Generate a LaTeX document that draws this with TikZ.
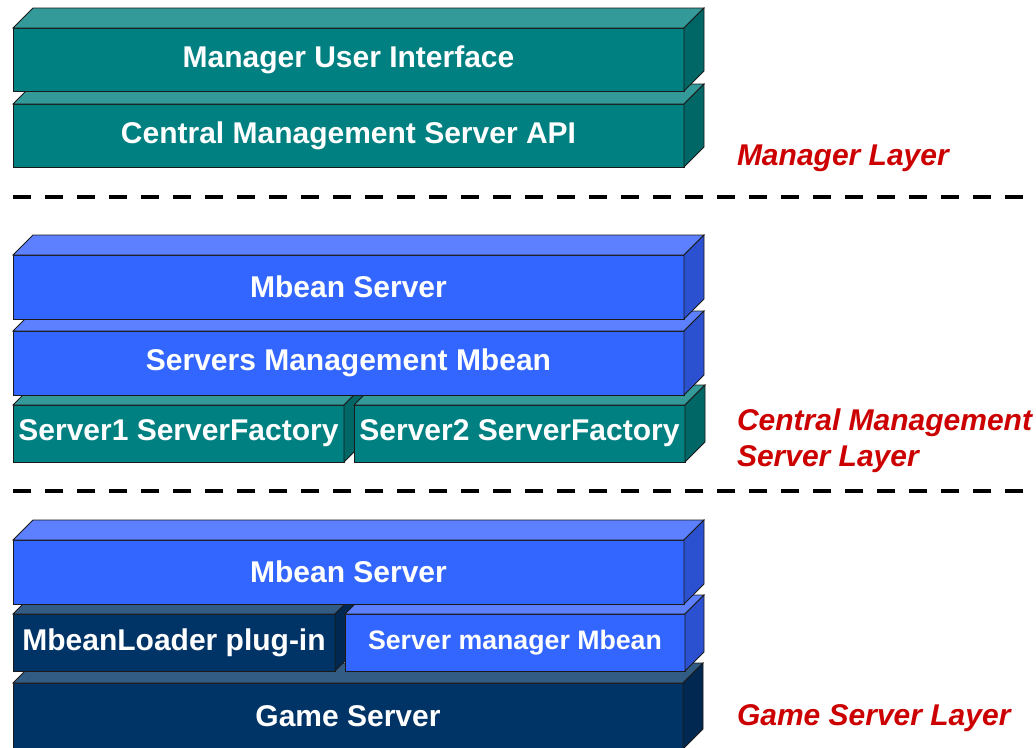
\documentclass[tikz,border=0pt]{standalone}
\usepackage{fontspec}
\setmainfont{Liberation Sans}

\definecolor{tealfront}{HTML}{008080}
\definecolor{tealtop}{HTML}{339999}
\definecolor{tealside}{HTML}{006666}
\definecolor{bluefront}{HTML}{3366FF}
\definecolor{bluetop}{HTML}{5C80FF}
\definecolor{blueside}{HTML}{2B50D0}
\definecolor{navyfront}{HTML}{003366}
\definecolor{navytop}{HTML}{335C85}
\definecolor{navyside}{HTML}{002850}
\definecolor{layerred}{HTML}{CC0000}
\definecolor{edge}{HTML}{1A1A1A}

% top and right faces of a slab whose front face is node #1
% #2 depth, #3 top colour, #4 side colour
\newcommand{\slabfaces}[4]{%
  \filldraw[face, fill=#3] (#1.north west) -- ++(#2,-#2)
    -- ([shift={(#2,-#2)}]#1.north east) -- (#1.north east) -- cycle;
  \filldraw[face, fill=#4] (#1.north east) -- ++(#2,-#2)
    -- ([shift={(#2,-#2)}]#1.south east) -- (#1.south east) -- cycle;
}

\begin{document}
\begin{tikzpicture}[x=1pt, y=-1pt,
  face/.style={draw=edge, line width=0.8pt, line join=miter},
  slab/.style={draw=edge, line width=0.8pt, inner sep=0pt, outer sep=0pt,
    anchor=north west, text=white,
    font=\bfseries\fontsize{30}{35}\selectfont},
  smallslab/.style={slab, font=\bfseries\fontsize{26.7}{31}\selectfont},
  layerlabel/.style={inner sep=0pt, outer sep=0pt, text=layerred, align=left,
    font=\bfseries\itshape\fontsize{30}{36}\selectfont},
  divider/.style={line width=4.5pt, dash pattern=on 18pt off 14pt}
]
\useasboundingbox[fill=white] (0,0) rectangle (1036,747);

% ---------------- manager layer ----------------
\node[slab, fill=tealfront, minimum width=671pt, minimum height=63pt]
  (cmsapi) at (13,104) {Central Management Server API};
\slabfaces{cmsapi}{20}{tealtop}{tealside}
\node[slab, fill=tealfront, minimum width=671pt, minimum height=63pt]
  (mui) at (13,28) {Manager User Interface};
\slabfaces{mui}{20}{tealtop}{tealside}

\node[layerlabel, anchor=base west] (mgrlayer) at (737,165) {Manager Layer};

\coordinate (div1a) at (13,197);
\coordinate (div1b) at (1031,197);
\draw[divider] (div1a) -- (div1b);

% ---------------- central management server layer ----------------
\node[slab, fill=tealfront, minimum width=331pt, minimum height=57pt]
  (sf1) at (13,405) {Server1 ServerFactory};
\slabfaces{sf1}{20}{tealtop}{tealside}
\node[slab, fill=tealfront, minimum width=331pt, minimum height=57pt]
  (sf2) at (354,405) {Server2 ServerFactory};
\slabfaces{sf2}{20}{tealtop}{tealside}

\node[slab, fill=bluefront, minimum width=671pt, minimum height=64pt]
  (smm) at (13,331) {Servers Management Mbean};
\slabfaces{smm}{20}{bluetop}{blueside}
\node[slab, fill=bluefront, minimum width=671pt, minimum height=64pt]
  (mbs1) at (13,255) {Mbean Server};
\slabfaces{mbs1}{20}{bluetop}{blueside}

% base anchor of a two-line node sits on its last line
\node[layerlabel, anchor=base west] (cmslayer) at (737,466)
  {Central Management\\Server Layer};

\coordinate (div2a) at (13,491);
\coordinate (div2b) at (1031,491);
\draw[divider] (div2a) -- (div2b);

% ---------------- game server layer ----------------
\node[slab, fill=navyfront, minimum width=670pt, minimum height=66pt]
  (game) at (13,683) {Game Server};
\slabfaces{game}{20}{navytop}{navyside}

\node[slab, fill=navyfront, minimum width=322pt, minimum height=57pt]
  (loader) at (13,614) {MbeanLoader plug-in};
\slabfaces{loader}{20}{navytop}{navyside}
\node[smallslab, fill=bluefront, minimum width=340pt, minimum height=57pt]
  (smb) at (345,614) {Server manager Mbean};
\slabfaces{smb}{19}{bluetop}{blueside}

\node[slab, fill=bluefront, minimum width=671pt, minimum height=64pt]
  (mbs2) at (13,540) {Mbean Server};
\slabfaces{mbs2}{20}{bluetop}{blueside}

\node[layerlabel, anchor=base west] (gslayer) at (737,725) {Game Server Layer};
\end{tikzpicture}
\end{document}
